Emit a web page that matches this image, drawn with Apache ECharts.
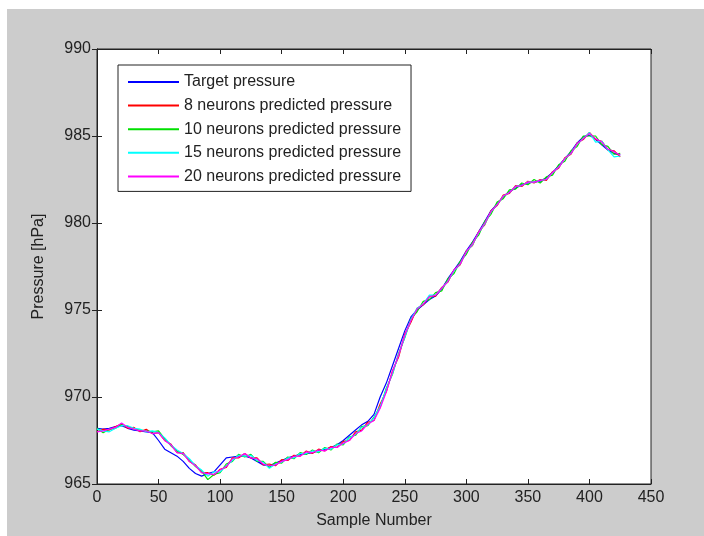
<!DOCTYPE html>
<html>
<head>
<meta charset="utf-8">
<script src="https://cdn.jsdelivr.net/npm/echarts@6/dist/echarts.min.js"></script>
<style>
html,body{margin:0;padding:0;background:#fff;}
#c{width:704px;height:536px;}
</style>
</head>
<body>
<div id="c"></div>
<script>
// Sample numbers (every 5th sample)
const samples = [];
for (let i = 0; i <= 425; i += 5) samples.push(i);

const seriesNames = ['Target pressure','8 neurons predicted pressure','10 neurons predicted pressure','15 neurons predicted pressure','20 neurons predicted pressure'];
const xTicks = [0,50,100,150,200,250,300,350,400,450];
const yTicks = [965,970,975,980,985,990];

const target = [
968.2,968.15,968.2,968.3,968.35,968.2,968.1,968.05,968.0,967.95,
967.5,967.0,966.8,966.6,966.3,965.9,965.6,965.45,965.6,965.7,
966.1,966.5,966.55,966.6,966.6,966.5,966.3,966.1,966.05,966.2,
966.35,966.5,966.6,966.7,966.75,966.8,966.9,967.0,967.1,967.25,
967.5,967.8,968.1,968.4,968.6,969.0,970.0,970.8,971.8,972.8,
973.8,974.6,975.0,975.3,975.6,975.8,976.2,976.8,977.3,977.8,
978.4,978.9,979.5,980.1,980.7,981.1,981.5,981.8,982.0,982.2,
982.3,982.35,982.4,982.6,982.9,983.3,983.7,984.1,984.6,984.95,
985.05,984.8,984.5,984.2,984.0,983.9];

const pred8 = [
968.0,968.15,968.1,968.3,968.45,968.2,968.25,968.0,968.15,967.9,
967.95,967.5,967.3,966.8,966.8,966.3,966.1,965.65,965.65,965.5,
965.85,965.95,966.5,966.5,966.75,966.5,966.5,966.1,966.15,966.05,
966.4,966.35,966.65,966.6,966.9,966.75,967.0,966.9,967.15,967.1,
967.45,967.5,968.0,968.1,968.55,968.65,969.6,970.3,971.5,972.3,
973.6,974.3,975.1,975.3,975.8,975.8,976.3,976.6,977.3,977.6,
978.4,978.7,979.5,979.9,980.7,981.0,981.6,981.7,982.15,982.1,
982.4,982.3,982.5,982.45,982.95,983.15,983.75,983.95,984.6,984.8,
985.2,984.8,984.7,984.2,984.15,983.8];

const pred10 = [
968.2,967.95,968.15,968.2,968.4,968.3,968.15,968.1,968.05,968.0,
968.05,967.6,967.2,966.9,966.7,966.4,966.0,965.75,965.25,965.55,
965.65,966.15,966.3,966.7,966.55,966.7,966.3,966.3,965.95,966.25,
966.2,966.55,966.45,966.8,966.7,966.95,966.8,967.1,966.95,967.3,
967.25,967.7,967.8,968.3,968.35,968.85,969.4,970.5,971.3,972.5,
973.4,974.5,974.9,975.5,975.6,976.0,976.1,976.8,977.1,977.8,
978.2,978.9,979.3,980.1,980.5,981.2,981.4,981.9,981.95,982.3,
982.2,982.5,982.3,982.65,982.75,983.35,983.55,984.15,984.4,985.0,
985.0,985.0,984.5,984.4,983.95,984.0];

const pred15 = [
968.15,968.05,968.0,968.2,968.35,968.35,968.2,968.15,968.0,968.05,
967.95,967.65,967.25,966.95,966.75,966.45,966.05,965.8,965.45,965.7,
965.7,966.05,966.35,966.65,966.6,966.65,966.35,966.25,965.9,966.15,
966.25,966.5,966.5,966.75,966.75,966.9,966.85,967.05,967.0,967.25,
967.3,967.65,967.85,968.25,968.4,968.8,969.45,970.45,971.35,972.45,
973.45,974.45,975.1,975.35,975.85,975.85,976.25,976.65,977.25,977.65,
978.35,978.75,979.45,979.95,980.65,981.05,981.55,981.75,982.1,982.15,
982.35,982.35,982.45,982.5,982.9,983.2,983.7,984.0,984.55,984.85,
985.2,984.65,984.7,984.2,983.8,983.85];

const pred20 = [
968.0,968.05,968.15,968.25,968.5,968.25,968.15,968.05,968.05,967.9,
967.95,967.5,967.25,966.8,966.75,966.3,966.05,965.65,965.6,965.55,
965.8,966.0,966.45,966.55,966.75,966.5,966.45,966.15,966.05,966.1,
966.3,966.4,966.6,966.6,966.85,966.8,966.95,966.9,967.1,967.1,
967.35,967.5,967.9,968.05,968.45,968.65,969.35,970.3,971.45,972.4,
973.55,974.4,975.05,975.35,975.75,975.85,976.25,976.65,977.3,977.65,
978.35,978.8,979.45,980.0,980.65,981.05,981.55,981.75,982.1,982.15,
982.35,982.35,982.45,982.5,982.9,983.2,983.7,984.0,984.55,984.85,
985.15,984.85,984.65,984.25,984.1,983.9];

const allValues = [target, pred8, pred10, pred15, pred20];
const colors = ['#0000ff','#ff0000','#00e000','#00ffff','#ff00ff'];

const chart = echarts.init(document.getElementById('c'), null, {renderer:'canvas'});
const font = 'Liberation Sans, Arial, sans-serif';
const txt = '#222';

function pairs(vals){ return samples.map((s,i)=>[s, vals[i]]); }

const axisCommon = {
  type:'value',
  axisLine:{show:true, lineStyle:{color:'#222', width:1}},
  axisTick:{show:true, inside:true, length:5, lineStyle:{color:'#222'}},
  splitLine:{show:false}
};

chart.setOption({
  backgroundColor:'#ffffff',
  animation:false,
  graphic:[{type:'rect', shape:{x:7,y:9,width:697,height:527}, style:{fill:'#cccccc'}, z:-10, silent:true}],
  grid:{left:97, right:53, top:49, bottom:52, show:true, backgroundColor:'#ffffff', borderColor:'#222', borderWidth:1},
  legend:{
    orient:'vertical', left:118, top:65,
    data:seriesNames.map((n,i)=>({name:n, icon:'rect', itemStyle:{color:colors[i], borderWidth:0}})),
    backgroundColor:'#ffffff', borderColor:'#222', borderWidth:1,
    padding:[9,10,7,10],
    itemWidth:51, itemHeight:2, itemGap:7.6,
    textStyle:{fontFamily:font, fontSize:16, color:txt, lineHeight:16}
  },
  xAxis:[
    Object.assign({}, axisCommon, {
      min:0, max:450, interval:50, position:'bottom',
      name:'Sample Number', nameLocation:'middle', nameGap:29,
      nameTextStyle:{fontFamily:font, fontSize:16, color:txt},
      axisLabel:{fontFamily:font, fontSize:16, color:txt, margin:6,
        formatter:v=> xTicks.indexOf(v)>=0 ? String(v) : ''}
    }),
    Object.assign({}, axisCommon, {
      min:0, max:450, interval:50, position:'top', axisLabel:{show:false}
    })
  ],
  yAxis:[
    Object.assign({}, axisCommon, {
      min:965, max:990, interval:5, position:'left',
      name:'Pressure [hPa]', nameLocation:'middle', nameGap:50,
      nameTextStyle:{fontFamily:font, fontSize:16, color:txt},
      axisLabel:{fontFamily:font, fontSize:16, color:txt, margin:6,
        formatter:v=> yTicks.indexOf(v)>=0 ? String(v) : ''}
    }),
    Object.assign({}, axisCommon, {
      min:965, max:990, interval:5, position:'right', axisLabel:{show:false}
    })
  ],
  series: seriesNames.map((n,i)=>({
    name:n, type:'line', xAxisIndex:0, yAxisIndex:0,
    data:pairs(allValues[i]),
    symbol:'none', showSymbol:false,
    lineStyle:{color:colors[i], width:1.2},
    itemStyle:{color:colors[i]},
    z:2+i
  }))
});
</script>
</body>
</html>
